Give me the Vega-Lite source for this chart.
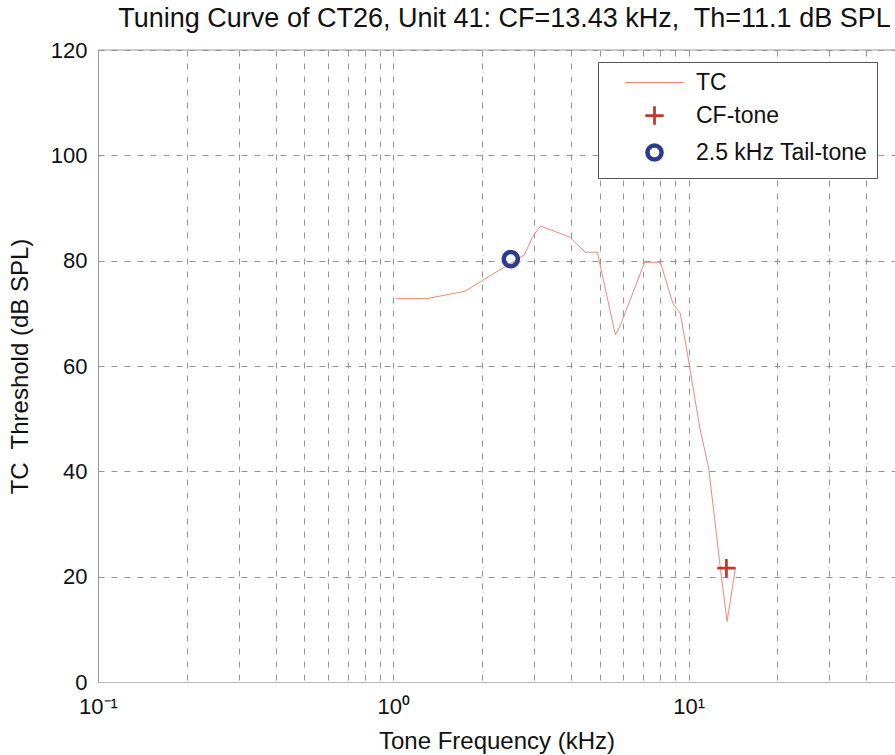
{
  "$schema": "https://vega.github.io/schema/vega-lite/v6.json",
  "width": 797,
  "height": 632,
  "autosize": {"type": "none"},
  "padding": {"left": 98, "top": 50, "right": 0, "bottom": 73},
  "background": "white",
  "title": {
    "text": "Tuning Curve of CT26, Unit 41: CF=13.43 kHz,\u00a0 Th=11.1 dB SPL",
    "font": "Liberation Sans",
    "fontSize": 27,
    "fontWeight": "normal",
    "color": "#111",
    "offset": 6,
    "anchor": "middle",
    "dx": 8
  },
  "config": {
    "view": {"stroke": null},
    "font": "Liberation Sans",
    "legend": {
      "orient": "none",
      "legendX": 500,
      "legendY": 12,
      "strokeColor": "#555",
      "fillColor": "white",
      "padding": 9,
      "labelFont": "Liberation Sans",
      "labelFontSize": 23,
      "labelColor": "#111",
      "labelLimit": 400,
      "symbolOffset": 36,
      "labelOffset": 30,
      "rowPadding": 5,
      "symbolSize": 200,
      "title": null
    }
  },
  "data": {
    "values": [
      {"series": "TC", "freq": 1.02, "thr": 72.8},
      {"series": "TC", "freq": 1.30, "thr": 72.8},
      {"series": "TC", "freq": 1.75, "thr": 74.2},
      {"series": "TC", "freq": 1.97, "thr": 76.0},
      {"series": "TC", "freq": 2.38, "thr": 78.8},
      {"series": "TC", "freq": 2.78, "thr": 81.1},
      {"series": "TC", "freq": 2.96, "thr": 84.5},
      {"series": "TC", "freq": 3.15, "thr": 86.6},
      {"series": "TC", "freq": 3.95, "thr": 84.5},
      {"series": "TC", "freq": 4.47, "thr": 81.6},
      {"series": "TC", "freq": 4.91, "thr": 81.6},
      {"series": "TC", "freq": 5.65, "thr": 65.9},
      {"series": "TC", "freq": 5.88, "thr": 67.8},
      {"series": "TC", "freq": 7.10, "thr": 79.7},
      {"series": "TC", "freq": 8.03, "thr": 79.7},
      {"series": "TC", "freq": 8.83, "thr": 72.0},
      {"series": "TC", "freq": 9.37, "thr": 70.0},
      {"series": "TC", "freq": 9.90, "thr": 62.5},
      {"series": "TC", "freq": 10.9, "thr": 48.4},
      {"series": "TC", "freq": 11.7, "thr": 40.6},
      {"series": "TC", "freq": 12.8, "thr": 21.8},
      {"series": "TC", "freq": 13.5, "thr": 11.5},
      {"series": "TC", "freq": 14.4, "thr": 21.6},
      {"series": "CF-tone", "freq": 13.43, "thr": 21.6},
      {"series": "2.5 kHz Tail-tone", "freq": 2.5, "thr": 80.3}
    ]
  },
  "layer": [
    {
      "transform": [{"filter": "datum.series == 'TC'"}],
      "mark": {"type": "line", "interpolate": "linear"},
      "encoding": {
        "x": {
          "field": "freq",
          "type": "quantitative",
          "scale": {"type": "log", "domain": [0.1, 50], "nice": false},
          "axis": {
            "values": [0.1, 0.2, 0.3, 0.4, 0.5, 0.6, 0.7, 0.8, 0.9, 1, 2, 3, 4, 5, 6, 7, 8, 9, 10, 20, 30, 40],
            "labelExpr": "datum.value == 0.1 ? '10⁻¹' : datum.value == 1 ? '10⁰' : datum.value == 10 ? '10¹' : ''",
            "grid": true,
            "gridDash": [6, 7],
            "gridColor": "#888",
            "gridOpacity": 0.9,
            "ticks": false,
            "domainColor": "#bbb",
            "labelFontSize": 22,
            "labelColor": "#111",
            "labelPadding": 14,
            "labelFlush": false,
            "labelOverlap": false,
            "title": "Tone Frequency (kHz)",
            "titleFontSize": 24,
            "titleFontWeight": "normal",
            "titleColor": "#111",
            "titlePadding": 12
          }
        },
        "y": {
          "field": "thr",
          "type": "quantitative",
          "scale": {"domain": [0, 120], "nice": false},
          "axis": {
            "values": [0, 20, 40, 60, 80, 100, 120],
            "grid": true,
            "gridDash": [6, 7],
            "gridColor": "#888",
            "gridOpacity": 0.9,
            "ticks": false,
            "domainColor": "#999",
            "labelFontSize": 22,
            "labelColor": "#111",
            "labelPadding": 11,
            "title": "TC\u00a0 Threshold (dB SPL)",
            "titleFontSize": 24,
            "titleFontWeight": "normal",
            "titleColor": "#111",
            "titlePadding": 18
          }
        },
        "color": {
          "field": "series",
          "type": "nominal",
          "scale": {"domain": ["TC", "CF-tone", "2.5 kHz Tail-tone"], "range": ["#f4877a", "#c0392b", "#2b3a92"]}
        },
        "strokeWidth": {
          "field": "series",
          "type": "nominal",
          "scale": {"domain": ["TC", "CF-tone", "2.5 kHz Tail-tone"], "range": [1, 4.5, 3.5]}
        }
      }
    },
    {
      "transform": [{"filter": "datum.series != 'TC'"}],
      "mark": {"type": "point", "filled": false, "size": 200, "opacity": 1},
      "encoding": {
        "x": {"field": "freq", "type": "quantitative"},
        "y": {"field": "thr", "type": "quantitative"},
        "color": {
          "field": "series",
          "type": "nominal",
          "scale": {"domain": ["TC", "CF-tone", "2.5 kHz Tail-tone"], "range": ["#f4877a", "#c0392b", "#2b3a92"]}
        },
        "shape": {
          "field": "series",
          "type": "nominal",
          "scale": {"domain": ["TC", "CF-tone", "2.5 kHz Tail-tone"], "range": ["M-4.2,0H4.2", "M-1.3,0H1.3M0,-1.3V1.3", "circle"]}
        },
        "strokeWidth": {
          "field": "series",
          "type": "nominal",
          "scale": {"domain": ["TC", "CF-tone", "2.5 kHz Tail-tone"], "range": [1, 4.5, 3.5]}
        }
      }
    },
    {
      "transform": [{"filter": "datum.series == 'CF-tone'"}],
      "mark": {"type": "rule", "color": "#999", "strokeWidth": 1},
      "encoding": {"y": {"datum": 120}}
    }
  ]
}
